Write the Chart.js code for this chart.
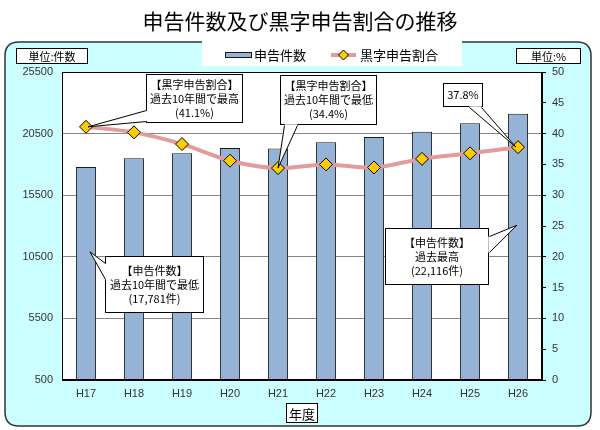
<!DOCTYPE html>
<html><head><meta charset="utf-8">
<script src="https://cdn.jsdelivr.net/npm/chart.js@4"></script>
<style>html,body{margin:0;padding:0;background:#fff}#wrap{width:600px;height:430px}</style>
</head><body><div id="wrap"><canvas id="c" width="600" height="430"></canvas></div>
<script>
const categories = ['H17','H18','H19','H20','H21','H22','H23','H24','H25','H26'];
const filings = [17781,18500,18900,19330,19300,19800,20220,20660,21340,22116];
const surplusRatio = [41.1,40.2,38.3,35.6,34.4,35.0,34.5,35.9,36.8,37.8];
const leftTicks = [500,5500,10500,15500,20500,25500];
const rightTicks = [0,5,10,15,20,25,30,35,40,45,50];

const titleText = '申告件数及び黒字申告割合の推移';
const barLabel = '申告件数';
const lineLabel = '黒字申告割合';
const xTitle = '年度';
const leftUnit = '単位:件数';
const rightUnit = '単位:%';

const BAR_COLOR = '#95b3d7';
const LINE_COLOR = '#e39c9c';
const PT_COLOR = '#ffcc00';
const JP = '"Noto Sans CJK JP", "Noto Sans", sans-serif';
const NUM = '"Liberation Sans", Arial, sans-serif';

// callouts: anchor by data (axis, index, value), box in canvas pixels
const callouts = [
  {lines:['【黒字申告割合】','過去10年間で最高','(41.1%)'], box:[146,74,97,49], axis:'y1', idx:0, val:41.1, dx:2, base:[[146,110],[146,121]]},
  {lines:['【黒字申告割合】','過去10年間で最低','(34.4%)'], box:[280,75,97,50], axis:'y1', idx:4, val:34.4, dx:0, base:[[284,125],[297,125]]},
  {lines:['37.8%'], box:[443,83,40,24], axis:'y1', idx:9, val:37.8, dx:-2, base:[[469,107],[481,107]]},
  {lines:['【申告件数】','過去10年間で最低','(17,781件)'], box:[105,256,99,57], axis:'y', idx:0, val:10900, dx:4, base:[[105,263],[105,279]]},
  {lines:['【申告件数】','過去最高','(22,116件)'], box:[385,228,104,57], axis:'y', idx:9, val:13066, dx:-1, base:[[489,236],[489,252]]}
];

function rrect(ctx,x,y,w,h,r){
  ctx.beginPath();
  ctx.moveTo(x+r,y);ctx.lineTo(x+w-r,y);ctx.quadraticCurveTo(x+w,y,x+w,y+r);
  ctx.lineTo(x+w,y+h-r);ctx.quadraticCurveTo(x+w,y+h,x+w-r,y+h);
  ctx.lineTo(x+r,y+h);ctx.quadraticCurveTo(x,y+h,x,y+h-r);
  ctx.lineTo(x,y+r);ctx.quadraticCurveTo(x,y,x+r,y);ctx.closePath();
}
function labelBox(ctx,text,x,y,w,h,size){
  ctx.fillStyle='#fff';ctx.fillRect(x,y,w,h);
  ctx.strokeStyle='#000';ctx.lineWidth=1;ctx.strokeRect(x+0.5,y+0.5,w-1,h-1);
  ctx.fillStyle='#000';ctx.font=size+'px '+JP;ctx.textAlign='center';ctx.textBaseline='middle';
  ctx.fillText(text,x+w/2,y+h/2+1);
}

const decor = {
  id:'decor',
  beforeDraw(chart){
    const ctx=chart.ctx, a=chart.chartArea;
    ctx.save();
    ctx.fillStyle='#fff';ctx.fillRect(0,0,chart.width,chart.height);
    rrect(ctx,5,42,586,384,14);
    ctx.fillStyle='#ccffff';ctx.fill();
    ctx.strokeStyle='#333';ctx.lineWidth=1.5;ctx.stroke();
    ctx.fillStyle='#fff';ctx.fillRect(a.left,a.top,a.right-a.left,a.bottom-a.top);
    // title
    ctx.fillStyle='#000';ctx.font='21px '+JP;ctx.textAlign='center';ctx.textBaseline='middle';
    ctx.fillText(titleText,300,21);
    ctx.restore();
  },
  afterDraw(chart){
    const ctx=chart.ctx, a=chart.chartArea;
    ctx.save();
    ctx.strokeStyle='#000';ctx.lineWidth=1;
    ctx.strokeRect(a.left+0.5,a.top+0.5,a.right-a.left-1,a.bottom-a.top-1);
    // legend
    ctx.fillStyle='#fff';ctx.fillRect(202,38,260,28);
    const bd=chart.data.datasets[0], ld=chart.data.datasets[1];
    ctx.fillStyle=bd.backgroundColor;ctx.fillRect(225,52,27,6);
    ctx.strokeStyle=bd.borderColor;ctx.lineWidth=1;ctx.strokeRect(225.5,52.5,26,5);
    ctx.fillStyle='#000';ctx.font='13px '+JP;ctx.textAlign='left';ctx.textBaseline='middle';
    ctx.fillText(bd.label,254,55);
    ctx.strokeStyle=ld.borderColor;ctx.lineWidth=4;ctx.beginPath();ctx.moveTo(331,55);ctx.lineTo(356,55);ctx.stroke();
    ctx.beginPath();ctx.moveTo(343.5,50);ctx.lineTo(348.5,55);ctx.lineTo(343.5,60);ctx.lineTo(338.5,55);ctx.closePath();
    ctx.fillStyle=ld.pointBackgroundColor;ctx.fill();ctx.strokeStyle='#000';ctx.lineWidth=1;ctx.stroke();
    ctx.fillStyle='#000';ctx.fillText(ld.label,360,55);
    // unit boxes & axis title
    labelBox(ctx,leftUnit,16,48,72,16,11);
    labelBox(ctx,rightUnit,516,48,65,16,11);
    labelBox(ctx,xTitle,286,403,32,20,13);
    // callouts
    const xs=chart.scales.x;
    callouts.forEach(c=>{
      const tip=[xs.getPixelForValue(c.idx)+c.dx, chart.scales[c.axis].getPixelForValue(c.val)];
      const [bx,by,bw,bh]=c.box;
      ctx.fillStyle='#fff';ctx.fillRect(bx,by,bw,bh);
      ctx.strokeStyle='#000';ctx.lineWidth=1;ctx.strokeRect(bx+0.5,by+0.5,bw-1,bh-1);
      const [b1,b2]=c.base;
      ctx.beginPath();ctx.moveTo(b1[0],b1[1]);ctx.lineTo(tip[0],tip[1]);ctx.lineTo(b2[0],b2[1]);ctx.closePath();
      ctx.fillStyle='#fff';ctx.fill();
      ctx.strokeStyle='#fff';ctx.lineWidth=2.5;ctx.beginPath();ctx.moveTo(b1[0]+0.5,b1[1]+0.5);ctx.lineTo(b2[0]+0.5,b2[1]+0.5);ctx.stroke();
      ctx.strokeStyle='#000';ctx.lineWidth=1;ctx.beginPath();ctx.moveTo(b1[0]+0.5,b1[1]+0.5);ctx.lineTo(tip[0],tip[1]);ctx.lineTo(b2[0]+0.5,b2[1]+0.5);ctx.stroke();
      ctx.fillStyle='#000';ctx.font='11px '+JP;ctx.textAlign='center';ctx.textBaseline='middle';
      const n=c.lines.length, cy=by+bh/2, lh=14;
      c.lines.forEach((t,i)=>ctx.fillText(t,bx+bw/2,cy+(i-(n-1)/2)*lh));
    });
    ctx.restore();
  }
};

new Chart(document.getElementById('c'),{
  data:{
    labels:categories,
    datasets:[
      {type:'bar',label:barLabel,data:filings,yAxisID:'y',backgroundColor:BAR_COLOR,borderColor:'#1a1a1a',borderWidth:1,
       categoryPercentage:1,barPercentage:0.42,order:1},
      {type:'line',label:lineLabel,data:surplusRatio,yAxisID:'y1',borderColor:LINE_COLOR,borderWidth:4,tension:0.3,
       pointStyle:'rectRot',pointRadius:6.5,pointBackgroundColor:PT_COLOR,pointBorderColor:'#000',pointBorderWidth:1,order:0}
    ]
  },
  options:{
    responsive:false,animation:false,devicePixelRatio:1,
    layout:{padding:{left:0,right:13,top:72,bottom:20}},
    plugins:{legend:{display:false},title:{display:false},tooltip:{enabled:false}},
    scales:{
      x:{grid:{display:false,drawTicks:false},border:{color:'#000'},
         ticks:{color:'#333',font:{family:NUM,size:11},padding:7,maxRotation:0},
         afterFit(s){s.height=30;}},
      y:{position:'left',min:500,max:25500,
         afterBuildTicks(s){s.ticks=leftTicks.map(v=>({value:v}));},
         grid:{color:'#868686',drawTicks:false},border:{color:'#000'},
         ticks:{color:'#333',font:{family:NUM,size:11},padding:9,callback:v=>String(v)},
         afterFit(s){s.width=62;}},
      y1:{position:'right',min:0,max:50,
         afterBuildTicks(s){s.ticks=rightTicks.map(v=>({value:v}));},
         grid:{drawOnChartArea:false,drawTicks:true,tickLength:4,color:'#000'},border:{color:'#000'},
         ticks:{color:'#333',font:{family:NUM,size:11},padding:6,callback:v=>String(v)},
         afterFit(s){s.width=45;}}
    }
  },
  plugins:[decor]
});
</script></body></html>
